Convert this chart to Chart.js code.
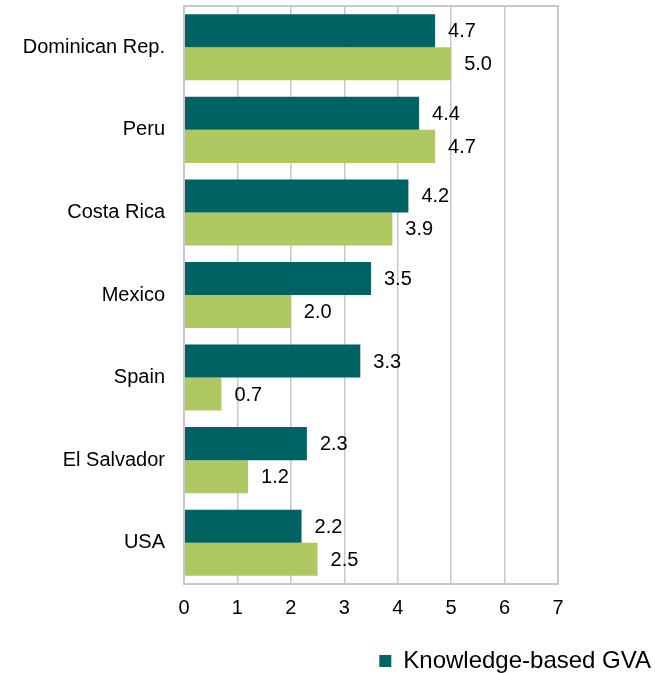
<!DOCTYPE html>
<html>
<head>
<meta charset="utf-8">
<script src="https://cdn.jsdelivr.net/npm/chart.js@4"></script>
<style>
  html, body { margin: 0; padding: 0; background: #fff; }
  #wrap { width: 655px; height: 673px; }
</style>
</head>
<body>
<div id="wrap"><canvas id="myChart"></canvas></div>
<script>
(function () {
    "use strict";

    const countries = ['Dominican Rep.', 'Peru', 'Costa Rica', 'Mexico', 'Spain', 'El Salvador', 'USA'];
    const knowledgeGva = [4.7, 4.4, 4.2, 3.5, 3.3, 2.3, 2.2];
    const totalGva = [5.0, 4.7, 3.9, 2.0, 0.7, 1.2, 2.5];
    const xTicks = [0, 1, 2, 3, 4, 5, 6, 7];

    const font = "'Liberation Sans', Arial, sans-serif";

    // value labels at the end of each bar + frame around the plot
    const barLabels = {
        id: 'barLabels',
        afterDatasetsDraw(chart) {
            const ctx = chart.ctx;
            ctx.save();
            ctx.font = '20px ' + font;
            ctx.fillStyle = '#000';
            ctx.textBaseline = 'middle';
            chart.data.datasets.forEach((ds, i) => {
                chart.getDatasetMeta(i).data.forEach((bar, j) => {
                    ctx.fillText(ds.data[j].toFixed(1), bar.x + 13, bar.y + 1);
                });
            });
            const a = chart.chartArea;
            ctx.strokeStyle = '#c8c8c8';
            ctx.lineWidth = 2;
            ctx.strokeRect(a.left, a.top, a.right - a.left, a.bottom - a.top);
            ctx.restore();
        }
    };

    const ctx = document.getElementById('myChart').getContext('2d');
    new Chart(ctx, {
        type: 'bar',
        data: {
            labels: countries,
            datasets: [{
                label: 'Knowledge-based GVA',
                backgroundColor: '#006262',
                data: knowledgeGva
            }, {
                label: 'Total GVA',
                backgroundColor: '#afc862',
                data: totalGva
            }]
        },
        options: {
            indexAxis: 'y',
            responsive: true,
            maintainAspectRatio: false,
            animation: false,
            categoryPercentage: 0.8,
            barPercentage: 1.0,
            layout: { padding: { top: 6, right: 0, left: 15, bottom: -10 } },
            plugins: {
                tooltip: { enabled: false },
                legend: {
                    position: 'bottom',
                    align: 'end',
                    labels: {
                        boxWidth: 12,
                        boxHeight: 12,
                        padding: 4,
                        color: '#000',
                        font: { family: font, size: 24 },
                        filter: (item) => item.datasetIndex === 0
                    }
                }
            },
            scales: {
                x: {
                    min: 0,
                    max: 7,
                    afterBuildTicks: (axis) => { axis.ticks = xTicks.map(v => ({ value: v })); },
                    afterFit: (axis) => { axis.height = 61; },
                    grid: { color: '#c8c8c8', lineWidth: 1.5, drawTicks: false },
                    border: { display: false },
                    ticks: { color: '#000', padding: 12, font: { family: font, size: 20 } }
                },
                y: {
                    afterFit: (axis) => {
                        axis.width = 169;
                        axis.paddingTop = 0;
                        axis.paddingBottom = 0;
                    },
                    grid: { display: false, drawTicks: false },
                    border: { display: false },
                    ticks: { color: '#000', padding: 19, font: { family: font, size: 20 } }
                },
                // empty right-hand gutter for the value labels
                gutter: {
                    type: 'category',
                    position: 'right',
                    afterFit: (axis) => { axis.width = 97; },
                    grid: { display: false, drawTicks: false },
                    border: { display: false },
                    ticks: { display: false }
                }
            }
        },
        plugins: [barLabels]
    });
})();
</script>
</body>
</html>
